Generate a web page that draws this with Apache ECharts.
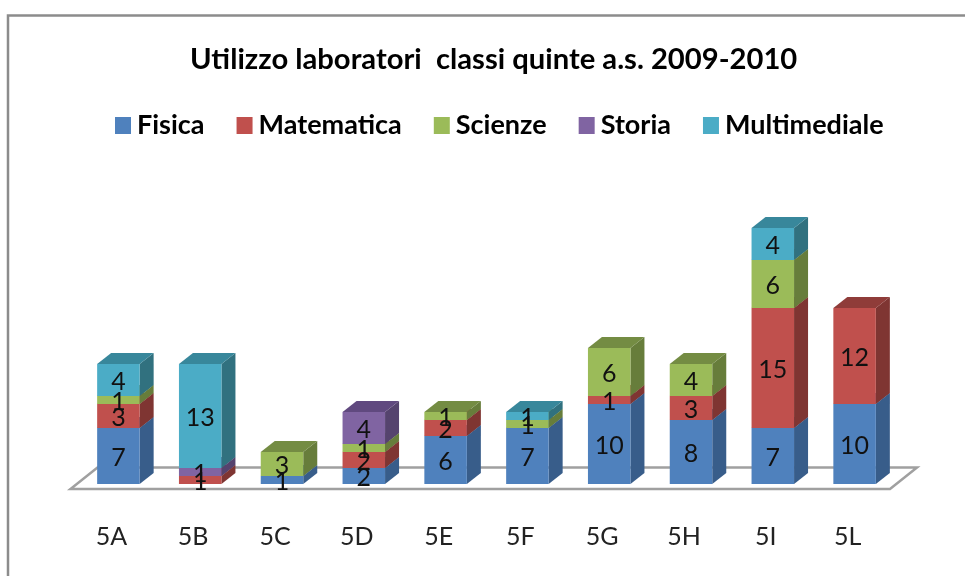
<!DOCTYPE html>
<html>
<head>
<meta charset="utf-8">
<style>
    html, body { margin: 0; padding: 0; background: #fff; }
    #main { width: 965px; height: 576px; }
</style>
<script src="https://cdn.jsdelivr.net/npm/echarts@6/dist/echarts.min.js"></script>
</head>
<body>
<div id="main"></div>
<script>
var classi = ['5A', '5B', '5C', '5D', '5E', '5F', '5G', '5H', '5I', '5L'];
var fisica = [7, 0, 1, 2, 6, 7, 10, 8, 7, 10];
var matematica = [3, 1, 0, 2, 2, 0, 1, 3, 15, 12];
var scienze = [1, 0, 3, 1, 1, 1, 6, 4, 6, 0];
var storia = [0, 1, 0, 4, 0, 0, 0, 0, 0, 0];
var multimediale = [4, 13, 0, 0, 0, 1, 0, 0, 4, 0];

var nomi = ['Fisica', 'Matematica', 'Scienze', 'Storia', 'Multimediale'];
var valori = [fisica, matematica, scienze, storia, multimediale];
var colori = ['#4F81BD', '#C0504D', '#9BBB59', '#8064A2', '#4BACC6'];
var coloriLato = ['#385D8A', '#7F3532', '#677D3B', '#55436E', '#31717F'];
var coloriSopra = ['#41699B', '#8F3C39', '#748C43', '#60497F', '#38879B'];

var font = 'Lato, "Open Sans", sans-serif';
var larghezza = 42.5, profX = 14, profY = 11, spostaX = 7;

var myChart = echarts.init(document.getElementById('main'));
var series = [];

// pavimento del grafico 3D
series.push({
    type: 'custom',
    name: 'pavimento',
    silent: true,
    z: 1,
    data: [0],
    renderItem: function(params, api) {
        var g = params.coordSys;
        var y = api.coord([0, 0])[1];
        return {
            type: 'polygon',
            shape: {
                points: [
                    [g.x, y + 5],
                    [g.x + g.width + 1.5, y + 5],
                    [g.x + g.width + 28.5, y - 16.5],
                    [g.x + 27, y - 16.5]
                ]
            },
            style: { fill: '#fff', stroke: '#A0A0A0', lineWidth: 2.5 }
        };
    }
});

var basi = classi.map(function() { return 0; });
nomi.forEach(function(nome, s) {
    var dati = [];
    valori[s].forEach(function(v, i) {
        if (v > 0) dati.push([i, basi[i], basi[i] + v, v]);
        basi[i] += v;
    });
    // barre
    series.push({
        type: 'custom',
        name: nome,
        silent: true,
        z: 2,
        itemStyle: { color: colori[s] },
        encode: { x: 0, y: [1, 2] },
        data: dati,
        renderItem: function(params, api) {
            var p0 = api.coord([api.value(0), api.value(1)]);
            var p1 = api.coord([api.value(0), api.value(2)]);
            var x0 = p0[0] + spostaX - larghezza / 2;
            var x1 = x0 + larghezza;
            return {
                type: 'group',
                children: [{
                    type: 'polygon',
                    shape: { points: [[x1, p0[1]], [x1 + profX, p0[1] - profY], [x1 + profX, p1[1] - profY], [x1, p1[1]]] },
                    style: { fill: coloriLato[s] }
                }, {
                    type: 'polygon',
                    shape: { points: [[x0, p1[1]], [x0 + profX, p1[1] - profY], [x1 + profX, p1[1] - profY], [x1, p1[1]]] },
                    style: { fill: coloriSopra[s] }
                }, {
                    type: 'rect',
                    shape: { x: x0, y: p1[1], width: larghezza, height: p0[1] - p1[1] },
                    style: { fill: colori[s] }
                }]
            };
        }
    });
    // etichette sopra tutte le barre
    series.push({
        type: 'custom',
        name: 'etichette ' + nome,
        silent: true,
        z: 3,
        encode: { x: 0, y: [1, 2] },
        data: dati,
        renderItem: function(params, api) {
            var p = api.coord([api.value(0), (api.value(1) + api.value(2)) / 2]);
            return {
                type: 'text',
                style: {
                    x: p[0] + spostaX,
                    y: p[1] + 2,
                    text: String(api.value(3)),
                    fill: '#111',
                    font: '25px ' + font,
                    align: 'center',
                    verticalAlign: 'middle'
                }
            };
        }
    });
});

var option = {
    animation: false,
    backgroundColor: '#fff',
    title: {
        text: 'Utilizzo laboratori  classi quinte a.s. 2009-2010',
        left: 185,
        top: 40,
        textStyle: { color: '#000', fontFamily: font, fontWeight: 'bold', fontSize: 29.2 }
    },
    legend: {
        data: nomi,
        left: 110,
        top: 107,
        icon: 'rect',
        itemWidth: 16,
        itemHeight: 17,
        itemGap: 32,
        selectedMode: false,
        textStyle: { color: '#000', fontFamily: font, fontWeight: 'bold', fontSize: 27, padding: [0, 0, 0, 1] }
    },
    grid: { left: 70.5, width: 818, top: 204, height: 280 },
    xAxis: {
        type: 'category',
        data: classi,
        axisLine: { show: false },
        axisTick: { show: false },
        axisLabel: { color: '#222', fontFamily: font, fontSize: 25, margin: 40 }
    },
    yAxis: { type: 'value', min: 0, max: 35, show: false },
    // cornice
    graphic: [{
        type: 'polyline',
        silent: true,
        shape: { points: [[8, 576], [8, 15.5], [965, 15.5]] },
        style: { fill: 'none', stroke: '#8C8C8C', lineWidth: 2.5 }
    }],
    series: series
};

myChart.setOption(option);
window.addEventListener('resize', function() {
    myChart.resize();
});
</script>
</body>
</html>
